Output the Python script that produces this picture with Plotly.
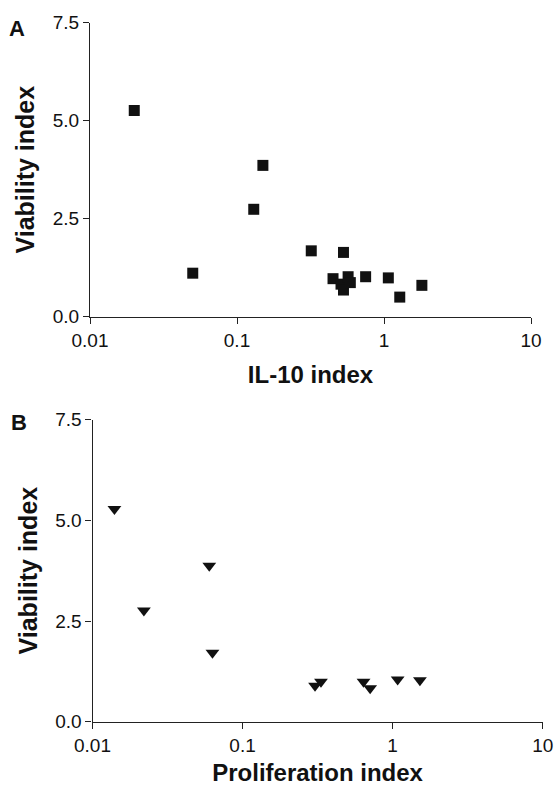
import plotly.graph_objects as go

# Panel A: IL-10 index vs viability index
il10_x = [0.020, 0.050, 0.130, 0.150, 0.32, 0.45, 0.51, 0.53, 0.53, 0.57, 0.59, 0.75, 1.07, 1.28, 1.81]
il10_y = [5.26, 1.11, 2.74, 3.86, 1.68, 0.97, 0.83, 1.64, 0.68, 1.02, 0.87, 1.02, 0.99, 0.50, 0.80]

# Panel B: proliferation index vs viability index
prolif_x = [0.014, 0.022, 0.060, 0.063, 0.304, 0.333, 0.64, 0.708, 1.08, 1.52]
prolif_y = [5.28, 2.76, 3.87, 1.71, 0.89, 0.99, 0.99, 0.83, 1.05, 1.03]

x_tickvals = [0.01, 0.1, 1, 10]
x_ticktext = ["0.01", "0.1", "1", "10"]
y_tickvals = [0, 2.5, 5.0, 7.5]
y_ticktext = ["0.0", "2.5", "5.0", "7.5"]

W, H = 560, 795
FONT = "Liberation Sans, Arial, Helvetica, sans-serif"

fig = go.Figure()
fig.add_trace(go.Scatter(x=il10_x, y=il10_y, mode="markers", xaxis="x", yaxis="y",
                         marker=dict(symbol="square", size=11, color="#111111"),
                         showlegend=False, cliponaxis=False))
fig.add_trace(go.Scatter(x=prolif_x, y=prolif_y, mode="markers", xaxis="x2", yaxis="y2",
                         marker=dict(symbol="triangle-down", size=12, color="#111111"),
                         showlegend=False, cliponaxis=False))

def xax(domain, anchor, title, standoff):
    return dict(type="log", range=[-2, 1], domain=domain, anchor=anchor, automargin=False,
                tickvals=x_tickvals, ticktext=x_ticktext,
                showline=True, linecolor="#222", linewidth=1.2,
                ticks="outside", ticklen=6, tickcolor="#222", tickwidth=1.2,
                showgrid=False, zeroline=False,
                tickfont=dict(family=FONT, size=19, color="#111"),
                title=dict(text="<b>%s</b>" % title, standoff=standoff,
                           font=dict(family=FONT, size=24, color="#111")))

def yax(domain, anchor):
    return dict(range=[0, 7.5], domain=domain, anchor=anchor, automargin=False,
                tickvals=y_tickvals, ticktext=y_ticktext,
                showline=True, linecolor="#222", linewidth=1.2,
                ticks="outside", ticklen=6, tickcolor="#222", tickwidth=1.2,
                showgrid=False, zeroline=False,
                tickfont=dict(family=FONT, size=19, color="#111"),
                title=dict(text="<b>Viability index</b>", standoff=10,
                           font=dict(family=FONT, size=25, color="#111")))

fig.update_layout(
    width=W, height=H,
    margin=dict(l=0, r=0, t=0, b=0, autoexpand=False),
    paper_bgcolor="white", plot_bgcolor="white",
    xaxis=xax([90 / W, 531 / W], "y", "IL-10 index", 16),
    yaxis=yax([1 - 316.7 / H, 1 - 22.7 / H], "x"),
    xaxis2=xax([92.5 / W, 542.7 / W], "y2", "Proliferation index", 9),
    yaxis2=yax([1 - 721.7 / H, 1 - 419.6 / H], "x2"),
    annotations=[
        dict(text="<b>A</b>", x=7 / W, y=1 - 14 / H, xref="paper", yref="paper",
             xanchor="left", yanchor="top", showarrow=False,
             font=dict(family=FONT, size=22, color="#111")),
        dict(text="<b>B</b>", x=9 / W, y=1 - 408 / H, xref="paper", yref="paper",
             xanchor="left", yanchor="top", showarrow=False,
             font=dict(family=FONT, size=22, color="#111")),
    ],
)

fig.write_html(
    "out.html",
    config={"displayModeBar": False},
    post_script="document.body.style.margin='0';document.body.style.overflow='hidden';",
)
